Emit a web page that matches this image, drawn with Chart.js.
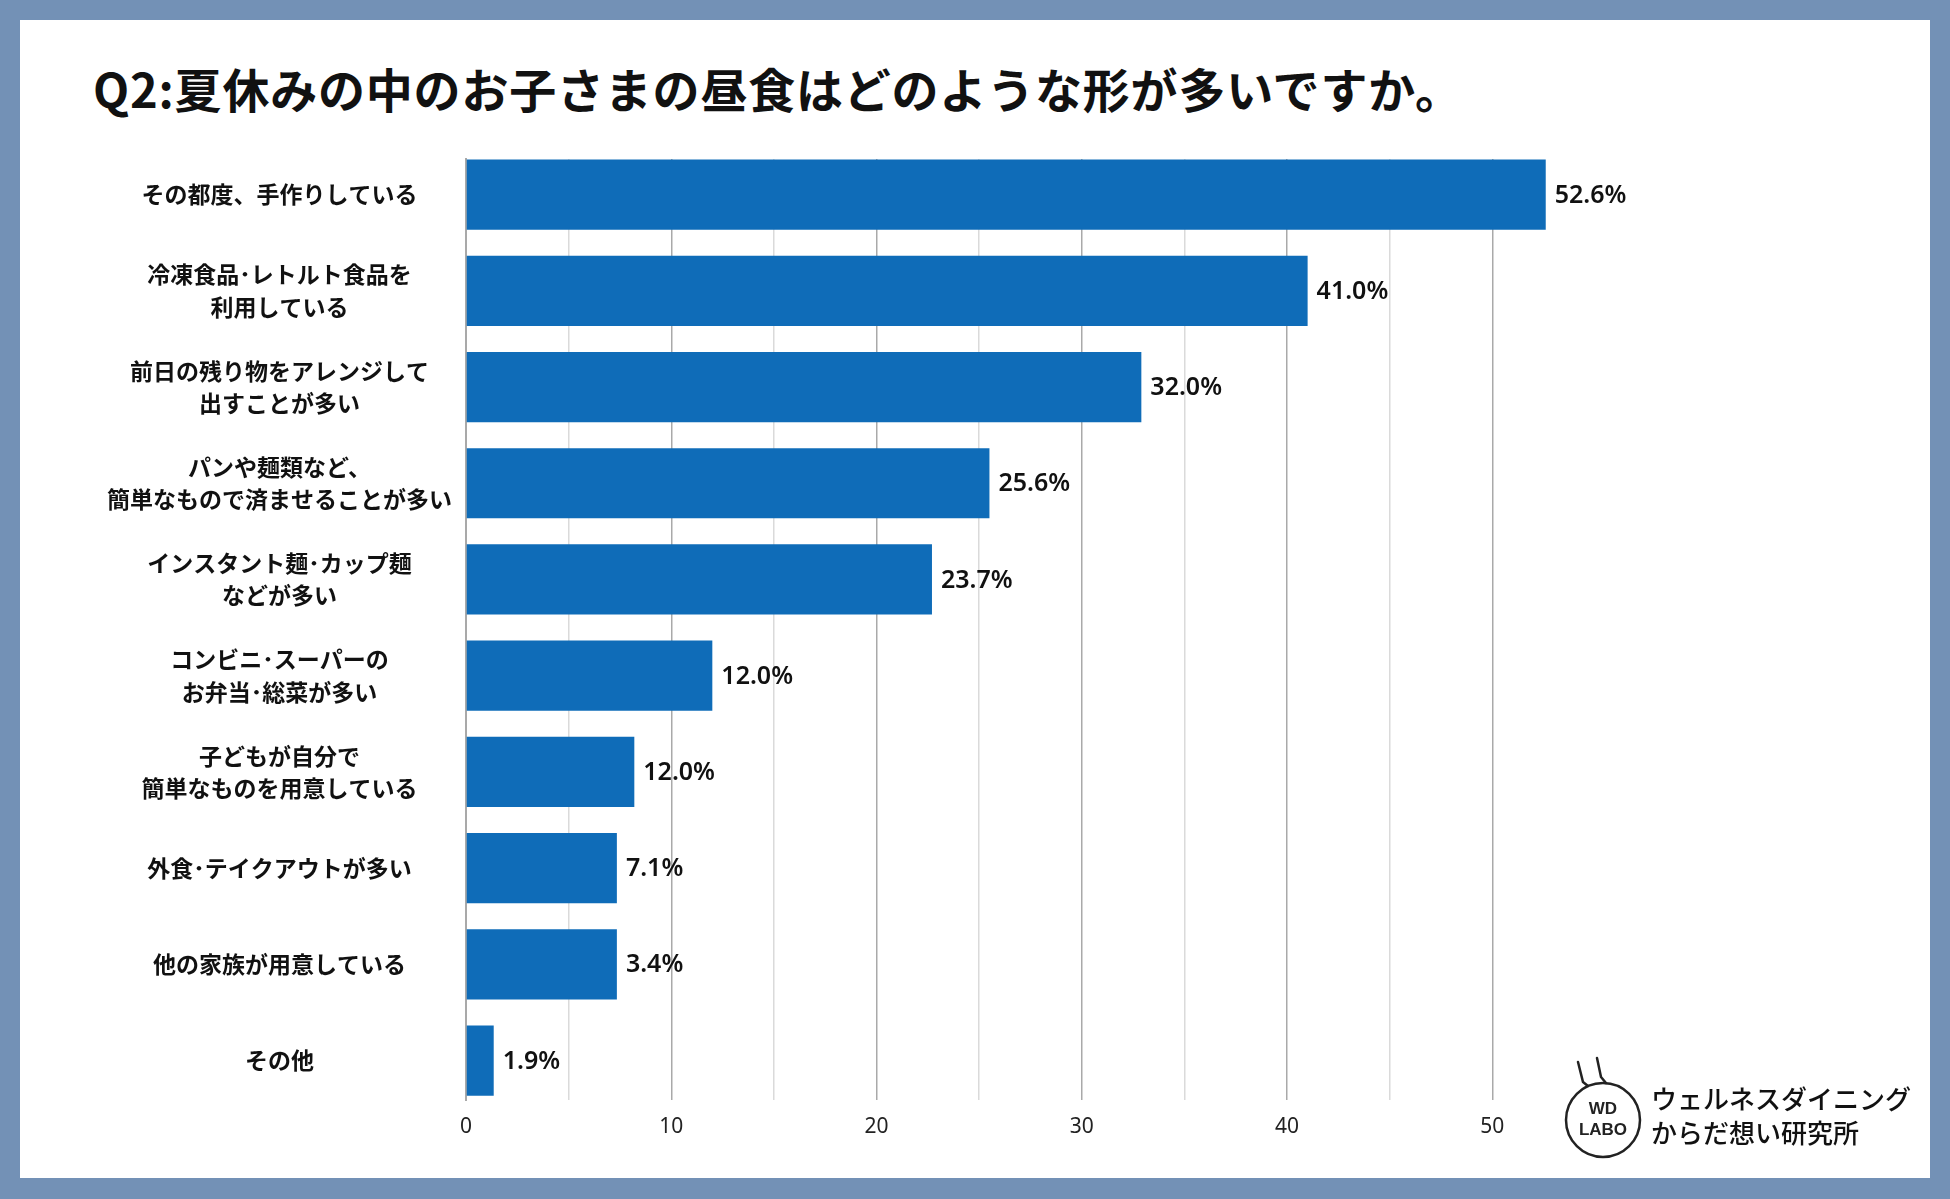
<!DOCTYPE html>
<html lang="ja">
<head>
<meta charset="utf-8">
<title>Q2 昼食の形</title>
<script src="https://cdn.jsdelivr.net/npm/chart.js@4.4.1/dist/chart.umd.min.js"></script>
<style>
    html, body { margin: 0; padding: 0; }
    body {
        width: 1950px;
        height: 1199px;
        background: #7391b6;
        position: relative;
        overflow: hidden;
        font-family: 'Noto Sans CJK JP', 'Noto Sans', sans-serif;
    }
    #sheet {
        position: absolute;
        left: 20px; top: 20px;
        width: 1910px; height: 1158px;
        background: #ffffff;
    }
    #chart-title {
        position: absolute;
        left: 93px; top: 58px;
        margin: 0;
        font-size: 47px;
        font-weight: 700;
        line-height: 60px;
        letter-spacing: 0.8px;
        color: #111;
        white-space: nowrap;
    }
    #chart {
        position: absolute;
        left: 0; top: 0;
    }
    #logo {
        position: absolute;
        left: 0; top: 0;
    }
</style>
</head>
<body>
<div id="sheet"></div>
<h1 id="chart-title">Q2:夏休みの中のお子さまの昼食はどのような形が多いですか。</h1>
<canvas id="chart" width="1950" height="1199"></canvas>
<svg id="logo" width="1950" height="1199" xmlns="http://www.w3.org/2000/svg">
    <g fill="none" stroke="#222" stroke-width="2.5" stroke-linecap="round">
        <circle cx="1603" cy="1120" r="37"/>
        <polyline points="1578,1062 1583,1082 1588,1086"/>
        <polyline points="1597,1058 1601,1077 1606,1083"/>
    </g>
    <g font-family="'Liberation Sans', Arial, sans-serif" font-weight="700" font-size="17" fill="#222" text-anchor="middle">
        <text x="1603" y="1114">WD</text>
        <text x="1603" y="1135">LABO</text>
    </g>
    <g font-family="'Noto Sans CJK JP', sans-serif" font-weight="500" font-size="26" fill="#111">
        <text x="1651" y="1109">ウェルネスダイニング</text>
        <text x="1651" y="1143">からだ想い研究所</text>
    </g>
</svg>

<script>
// --- Data ---
const categories = [
    'その都度、手作りしている',
    ['冷凍食品･レトルト食品を', '利用している'],
    ['前日の残り物をアレンジして', '出すことが多い'],
    ['パンや麺類など、', '簡単なもので済ませることが多い'],
    ['インスタント麺･カップ麺', 'などが多い'],
    ['コンビニ･スーパーの', 'お弁当･総菜が多い'],
    ['子どもが自分で', '簡単なものを用意している'],
    '外食･テイクアウトが多い',
    '他の家族が用意している',
    'その他'
];

// bar lengths as drawn in the picture (measured against the x axis)
const barLengths = [52.6, 41.0, 32.9, 25.5, 22.7, 12.0, 8.2, 7.35, 7.35, 1.35];

// percentage texts printed next to each bar
const valueLabels = ['52.6%', '41.0%', '32.0%', '25.6%', '23.7%', '12.0%', '12.0%', '7.1%', '3.4%', '1.9%'];

const axisMax = 55;
const axisStep = 5;

// --- Styles ---
const BAR_COLOR = '#0f6cb8';
const MAJOR_GRID = '#a9a9a9';
const MINOR_GRID = '#dadada';
const JP_FONT = "'Noto Sans CJK JP', 'Noto Sans', sans-serif";
const NUM_FONT = "'Noto Sans', 'Noto Sans CJK JP', sans-serif";

/**
 * Writes the percentage text just right of every bar.
 */
const valueLabelPlugin = {
    id: 'valueLabels',
    afterDatasetsDraw(chart) {
        const { ctx } = chart;
        const meta = chart.getDatasetMeta(0);
        ctx.save();
        ctx.font = `600 25px ${NUM_FONT}`;
        ctx.fillStyle = '#111';
        ctx.textAlign = 'left';
        ctx.textBaseline = 'middle';
        meta.data.forEach((bar, i) => {
            ctx.fillText(valueLabels[i], bar.x + 9, bar.y + 1);
        });
        ctx.restore();
    }
};

const ctx = document.getElementById('chart').getContext('2d');
new Chart(ctx, {
    type: 'bar',
    data: {
        labels: categories,
        datasets: [{
            data: barLengths,
            backgroundColor: BAR_COLOR,
            borderWidth: 0,
            barPercentage: 0.73,
            categoryPercentage: 1.0
        }]
    },
    options: {
        indexAxis: 'y',
        responsive: false,
        animation: false,
        devicePixelRatio: 1,
        layout: {
            padding: { left: 60, right: 355, top: 159, bottom: 59 }
        },
        plugins: {
            legend: { display: false },
            tooltip: { enabled: false }
        },
        scales: {
            y: {
                type: 'category',
                position: 'left',
                offset: true,
                grid: { display: false, drawTicks: false },
                border: { display: true, color: MAJOR_GRID, width: 2 },
                ticks: {
                    color: '#111',
                    crossAlign: 'center',
                    padding: 14,
                    font: { family: JP_FONT, size: 23, weight: 'bold', lineHeight: 1.4 }
                },
                // bars sit almost flush with the top and bottom of the grid
                afterBuildTicks: (scale) => {
                    scale._startValue = -0.37;
                    scale._valueRange = categories.length - 0.22;
                },
                afterFit: (scale) => { scale.width = 466 - 60; }
            },
            x: {
                type: 'linear',
                position: 'bottom',
                min: 0,
                max: axisMax,
                border: { display: false },
                grid: {
                    drawTicks: false,
                    lineWidth: 1.5,
                    color: (c) => {
                        const v = c.tick ? c.tick.value : 0;
                        if (v === axisMax) return 'rgba(0,0,0,0)';
                        return v % 10 === 0 ? MAJOR_GRID : MINOR_GRID;
                    }
                },
                ticks: {
                    stepSize: axisStep,
                    padding: 14,
                    color: '#222',
                    font: { family: NUM_FONT, size: 21 },
                    callback: (v) => (v % 10 === 0 && v < axisMax ? v : '')
                },
                afterFit: (scale) => { scale.height = 40; }
            }
        }
    },
    plugins: [valueLabelPlugin]
});
</script>
</body>
</html>
